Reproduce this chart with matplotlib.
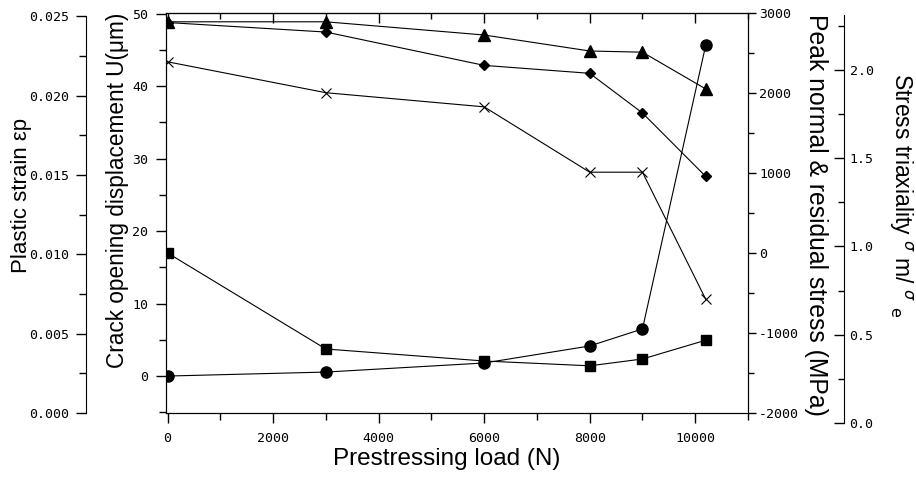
import numpy as np
import matplotlib
matplotlib.use("Agg")
import matplotlib.pyplot as plt
from matplotlib.ticker import MultipleLocator, FormatStrFormatter

# ===================================================================
# Data
# ===================================================================
load = [0, 3000, 6000, 8000, 9000, 10200]

cod_u = [0.0, 0.55, 1.8, 4.15, 6.5, 45.7]                      # circles, U (um)
plastic_strain = [0.0246, 0.0240, 0.0219, 0.0214, 0.0189, 0.0149]  # diamonds
peak_stress = [2890, 2890, 2725, 2525, 2510, 2050]              # triangles, MPa
residual_stress = [0, -1200, -1350, -1410, -1325, -1090]        # squares, MPa
triaxiality = [2.045, 1.87, 1.79, 1.42, 1.42, 0.70]             # crosses

# ===================================================================
# Figure
# ===================================================================
plt.rcParams['font.family'] = ['Liberation Sans', 'DejaVu Sans']
plt.rcParams['axes.unicode_minus'] = False

fig = plt.figure(figsize=(9.16, 4.8), dpi=100)
L, B, W, H = 166 / 916, 1 - 413 / 480, 582 / 916, 400 / 480
ax = fig.add_axes([L, B, W, H])

TICK_FAMILY, TICK_SIZE = 'DejaVu Sans Mono', 9.5
line_kw = dict(color='black', lw=0.8, mfc='black', mec='black')


def style_ticks(a):
    for t in a.get_xticklabels() + a.get_yticklabels():
        t.set_fontfamily(TICK_FAMILY)
        t.set_fontsize(TICK_SIZE)


# crack opening displacement (main axes)
ax.plot(load, cod_u, marker='o', ms=8, **line_kw)
ax.set_xlim(-30, 11000)
ax.set_ylim(-5.1, 50.1)
ax.yaxis.set_major_locator(MultipleLocator(10))
ax.yaxis.set_minor_locator(MultipleLocator(5))
ax.xaxis.set_major_locator(MultipleLocator(2000))
ax.xaxis.set_minor_locator(MultipleLocator(1000))
ax.tick_params(axis='both', which='major', direction='out', length=7, width=1)
ax.tick_params(axis='both', which='minor', direction='out', length=5, width=1)
ax.tick_params(right=False, top=False)
style_ticks(ax)
ax.tick_params(axis='x', pad=7)
ax.tick_params(axis='y', pad=6)
ax.set_xlabel('Prestressing load (N)', fontsize=17.5)
ax.xaxis.set_label_coords(0.483, -0.088)
ax.set_ylabel('Crack opening displacement U(\u03bcm)', fontsize=16.3)
ax.yaxis.set_label_coords(-0.064, 0.5575)
top = ax.secondary_xaxis('top')
top.xaxis.set_major_locator(MultipleLocator(2000))
top.xaxis.set_minor_locator(MultipleLocator(1000))
top.tick_params(which='major', direction='in', length=7, width=1, labeltop=False)
top.tick_params(which='minor', direction='in', length=4, width=1)

# plastic strain (far left)
ax2 = ax.twinx()
ax2.plot(load, plastic_strain, marker='D', ms=5.5, **line_kw)
ax2.set_ylim(0, 0.0252)
ax2.spines['left'].set_position(('axes', -0.1375))
ax2.spines['left'].set_visible(True)
ax2.spines['left'].set_bounds(0, 0.025)
ax2.spines['right'].set_visible(False)
ax2.spines['top'].set_visible(False)
ax2.spines['bottom'].set_visible(False)
ax2.yaxis.set_ticks_position('left')
ax2.yaxis.set_label_position('left')
ax2.yaxis.set_major_locator(MultipleLocator(0.005))
ax2.yaxis.set_minor_locator(MultipleLocator(0.0025))
ax2.yaxis.set_major_formatter(FormatStrFormatter('%.3f'))
ax2.tick_params(which='major', direction='out', length=7, width=1, pad=5)
ax2.tick_params(which='minor', direction='out', length=5, width=1)
style_ticks(ax2)
ax2.set_ylabel('Plastic strain \u03b5p', fontsize=16)
ax2.yaxis.set_label_coords(-0.231, 0.545)

# peak normal & residual stress (inner right)
ax3 = ax.twinx()
ax3.plot(load, peak_stress, marker='^', ms=9, **line_kw)
ax3.plot(load, residual_stress, marker='s', ms=6.5, **line_kw)
ax3.set_ylim(-2000, 3000)
ax3.yaxis.set_major_locator(MultipleLocator(1000))
ax3.yaxis.set_minor_locator(MultipleLocator(500))
ax3.tick_params(which='major', direction='out', length=6, width=1, pad=2)
ax3.tick_params(which='minor', direction='out', length=4, width=1)
style_ticks(ax3)
ax3.set_ylabel('Peak normal & residual stress (MPa)', fontsize=17.8, rotation=270)
ax3.yaxis.set_label_coords(1.137, 0.495)

# stress triaxiality (far right, own axes slightly lower)
ax4 = fig.add_axes([L, 1 - 423 / 480, W, 408 / 480])
ax4.patch.set_visible(False)
ax4.plot(load, triaxiality, marker='x', ms=7, mew=0.8, **line_kw)
ax4.set_xlim(ax.get_xlim())
ax4.set_ylim(0, 2.31)
for s in ['left', 'top', 'bottom']:
    ax4.spines[s].set_visible(False)
ax4.spines['right'].set_position(('axes', 1.165))
ax4.xaxis.set_visible(False)
ax4.yaxis.set_ticks_position('right')
ax4.yaxis.set_label_position('right')
ax4.yaxis.set_major_locator(MultipleLocator(0.5))
ax4.yaxis.set_minor_locator(MultipleLocator(0.25))
ax4.yaxis.set_major_formatter(FormatStrFormatter('%.1f'))
ax4.tick_params(which='major', direction='in', length=7, width=1, pad=4)
ax4.tick_params(which='minor', direction='in', length=4, width=1)
style_ticks(ax4)
ax4.set_ylabel(r'Stress triaxiality $^{\sigma}$ m/ $^{\sigma}$ $_{\rm e}$', fontsize=16.5, rotation=270)
ax4.yaxis.set_label_coords(1.285, 0.559)

fig.savefig('out.png', dpi=100)
